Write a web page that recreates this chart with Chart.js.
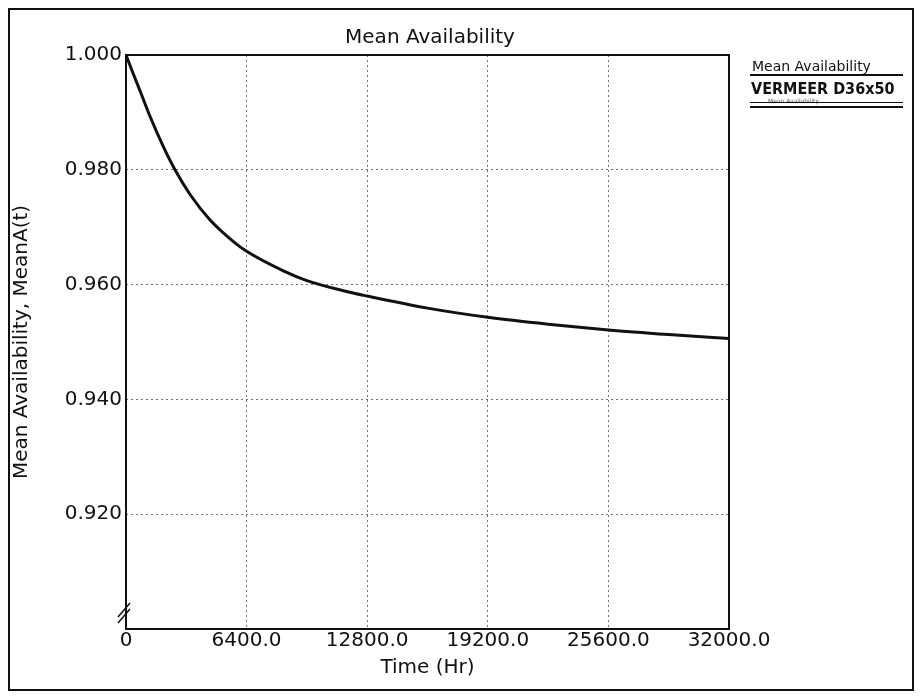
<!DOCTYPE html>
<html>
<head>
<meta charset="utf-8">
<title>Mean Availability</title>
<script src="https://cdn.jsdelivr.net/npm/chart.js@4.4.0/dist/chart.umd.min.js"></script>
<style>
  html, body { margin: 0; padding: 0; background: #fff; }
  #wrap { position: relative; width: 920px; height: 698px; }
  #frame { position: absolute; left: 8px; top: 8px; width: 906px; height: 683px; border: 2px solid #111; box-sizing: border-box; }
  #chart { position: absolute; left: 0; top: 0; }
  .leg { position: absolute; font-family: 'DejaVu Sans', sans-serif; color: #111; white-space: nowrap; }
  .rule { position: absolute; height: 0; border-top: 2px solid #111; }
  #title { position: absolute; left: 230px; width: 400px; top: 24px; text-align: center; font: 20px 'DejaVu Sans', sans-serif; color: #111; }
</style>
</head>
<body>
<div id="wrap">
  <div id="frame"></div>
  <canvas id="chart" width="920" height="698"></canvas>
  <div id="title">Mean Availability</div>
  <!-- legend box on the right -->
  <div class="leg" style="left:752px; top:58px; font-size:14px;">Mean Availability</div>
  <div class="rule" style="left:750px; top:74px; width:153px;"></div>
  <div class="leg" style="left:751px; top:79px; font-size:16px; font-weight:bold; font-family:'DejaVu Sans Condensed','DejaVu Sans',sans-serif;">VERMEER D36x50</div>
  <div class="leg" style="left:768px; top:97px; font-size:6px; color:#555;">Mean Availability</div>
  <div class="rule" style="left:750px; top:102px; width:153px; border-top-width:1px;"></div>
  <div class="rule" style="left:750px; top:106px; width:153px;"></div>
</div>

<script>
// data
const timeHr = [0, 400, 800, 1250, 2000, 2600, 3400, 4450, 5700, 6400, 8350, 9600, 11700, 12800, 16000, 19200, 22400, 25600, 28800, 32000];
const meanAvail = [1.000, 0.9966, 0.9933, 0.9895, 0.9839, 0.9800, 0.9757, 0.9713, 0.9675, 0.9658, 0.9624, 0.9607, 0.9588, 0.9580, 0.9559, 0.9543, 0.9531, 0.9521, 0.9513, 0.9506];
const xTicks = [0, 6400, 12800, 19200, 25600, 32000];
const yTicks = [0.900, 0.920, 0.940, 0.960, 0.980, 1.000];

const FONT = "'DejaVu Sans', 'Liberation Sans', sans-serif";

// plot frame plus the little axis-break mark at bottom left
const framePlugin = {
    id: 'frame',
    afterDraw(chart) {
        const { ctx, chartArea: a } = chart;
        ctx.save();
        ctx.strokeStyle = '#111';
        ctx.lineWidth = 2;
        ctx.strokeRect(a.left, a.top, a.right - a.left, a.bottom - a.top);
        ctx.lineWidth = 1.5;
        ctx.beginPath();
        ctx.moveTo(a.left - 8, a.bottom - 12); ctx.lineTo(a.left + 4, a.bottom - 26);
        ctx.moveTo(a.left - 8, a.bottom - 6); ctx.lineTo(a.left + 4, a.bottom - 20);
        ctx.stroke();
        ctx.restore();
    }
};

new Chart(document.getElementById('chart').getContext('2d'), {
    type: 'line',
    data: {
        datasets: [{
            label: 'VERMEER D36x50',
            data: timeHr.map((t, i) => ({ x: t, y: meanAvail[i] })),
            borderColor: '#111',
            borderWidth: 3,
            pointRadius: 0,
            fill: false,
            cubicInterpolationMode: 'monotone'
        }]
    },
    options: {
        responsive: false,
        animation: false,
        layout: { padding: { left: 0, right: 191, top: 55, bottom: 0 } },
        plugins: {
            legend: { display: false },
            tooltip: { enabled: false },
            title: { display: false }
        },
        scales: {
            x: {
                type: 'linear',
                min: 0,
                max: 32000,
                afterBuildTicks: s => { s.ticks = xTicks.map(v => ({ value: v })); },
                afterFit: s => { s.height = 69; },
                ticks: {
                    color: '#111',
                    font: { family: FONT, size: 20 },
                    padding: 0,
                    maxRotation: 0,
                    callback: v => v === 0 ? '0' : v.toFixed(1)
                },
                grid: { color: 'rgba(0,0,0,0.55)', lineWidth: 1, drawTicks: false },
                border: { display: false, dash: [2, 3] },
                title: {
                    display: true,
                    text: 'Time (Hr)',
                    color: '#111',
                    font: { family: FONT, size: 20 },
                    padding: { top: 0, bottom: 18 }
                }
            },
            y: {
                min: 0.9,
                max: 1.0,
                afterBuildTicks: s => { s.ticks = yTicks.map(v => ({ value: v })); },
                afterFit: s => { s.width = 126; },
                ticks: {
                    color: '#111',
                    font: { family: FONT, size: 20 },
                    padding: 4,
                    callback: v => v < 0.91 ? '' : v.toFixed(3)
                },
                grid: { color: 'rgba(0,0,0,0.55)', lineWidth: 1, drawTicks: false },
                border: { display: false, dash: [2, 3] },
                title: {
                    display: true,
                    text: 'Mean Availability, MeanA(t)',
                    color: '#111',
                    font: { family: FONT, size: 20 },
                    padding: { top: 10, bottom: 0 }
                }
            }
        }
    },
    plugins: [framePlugin]
});
</script>
</body>
</html>
